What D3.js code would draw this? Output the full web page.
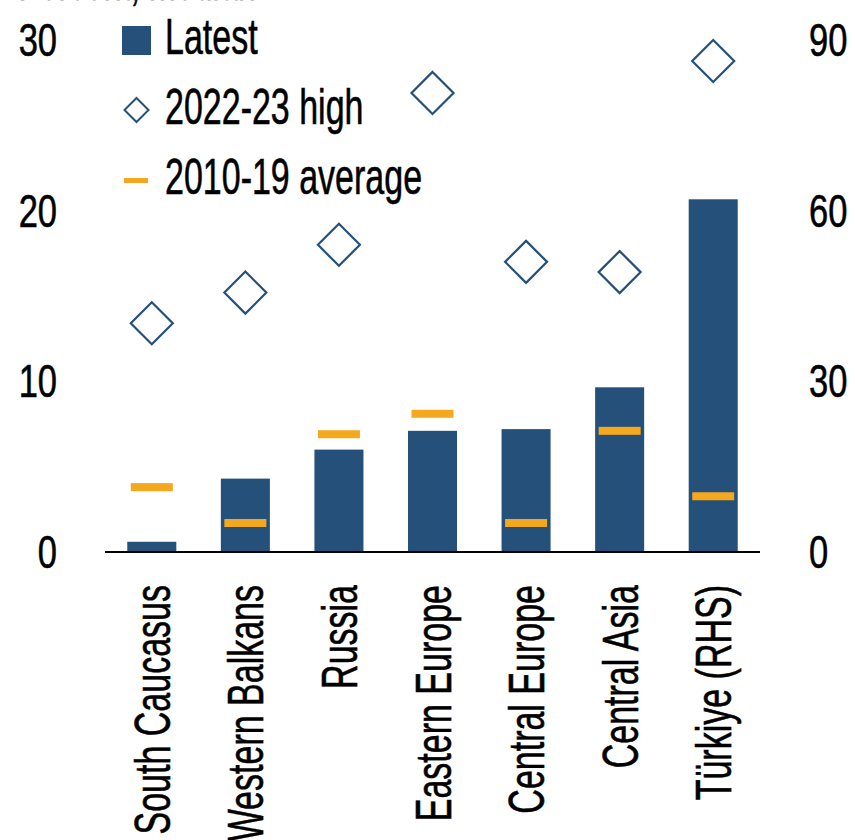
<!DOCTYPE html>
<html>
<head>
<meta charset="utf-8">
<script src="https://d3js.org/d3.v7.min.js"></script>
<style>
body { margin: 0; background: #fff; }
svg { display: block; }
text { font-family: 'Liberation Sans', Arial, sans-serif; fill: #000; stroke: #000; stroke-width: 0.6px; }
</style>
</head>
<body>
<svg id="chart" width="855" height="840"></svg>
<script>
// data
var regions = ["South Caucasus", "Western Balkans", "Russia", "Eastern Europe", "Central Europe", "Central Asia", "Türkiye (RHS)"];
var latest = [0.6, 4.3, 6.0, 7.1, 7.2, 9.65, 62.0];
var high2223 = [13.4, 15.2, 18.0, 26.9, 17.0, 16.4, 86.3];
var avg1019 = [3.8, 1.7, 6.9, 8.1, 1.7, 7.1, 9.8];
var rhsFlag = [false, false, false, false, false, false, true];
var leftTicks = [0, 10, 20, 30];
var rightTicks = [0, 30, 60, 90];
var legendLabels = ["Latest", "2022-23 high", "2010-19 average"];

var navy = "#24507a";
var orange = "#f5a81e";
var sx = 0.68; // squeeze text, the source font is a condensed one
var sxNum = 0.75;

var svg = d3.select("#chart");

var x = d3.scaleBand().domain(regions).range([105, 760]).paddingInner(0.476).paddingOuter(0.238);
var yL = d3.scaleLinear().domain([0, 30]).range([552, 40]);
var yR = d3.scaleLinear().domain([0, 90]).range([552, 40]);
function yv(v, i) { return rhsFlag[i] ? yR(v) : yL(v); }

// title (cut at the top in the source)
svg.append("g").attr("transform", "translate(20,0) scale(" + sx + ",1)")
  .append("text").attr("font-size", 48).attr("font-style", "italic").text("Percent, median");

// bars
svg.selectAll("rect.bar").data(regions).enter().append("rect")
  .attr("class", "bar")
  .attr("x", function(d){ return x(d); })
  .attr("width", x.bandwidth())
  .attr("y", function(d, i){ return yv(latest[i], i); })
  .attr("height", function(d, i){ return 552 - yv(latest[i], i); })
  .attr("fill", navy);

// 2010-19 average markers
svg.selectAll("rect.avg").data(regions).enter().append("rect")
  .attr("class", "avg")
  .attr("x", function(d){ return x(d) + x.bandwidth()/2 - 21; })
  .attr("width", 42)
  .attr("y", function(d, i){ return yv(avg1019[i], i) - 4; })
  .attr("height", 8)
  .attr("fill", orange);

// 2022-23 high diamonds
var dsz = 21;
svg.selectAll("path.high").data(regions).enter().append("path")
  .attr("class", "high")
  .attr("transform", function(d, i){ return "translate(" + (x(d) + x.bandwidth()/2) + "," + yv(high2223[i], i) + ")"; })
  .attr("d", "M0," + (-dsz) + "L" + dsz + ",0L0," + dsz + "L" + (-dsz) + ",0Z")
  .attr("fill", "none").attr("stroke", navy).attr("stroke-width", 2.2);

// baseline
svg.append("line").attr("x1", 105).attr("x2", 760).attr("y1", 552).attr("y2", 552)
  .attr("stroke", "#000").attr("stroke-width", 2);

// left axis labels
svg.selectAll("g.lt").data(leftTicks).enter().append("g")
  .attr("transform", function(d){ return "translate(57," + (yL(d) + 16) + ") scale(" + sxNum + ",1)"; })
  .append("text").attr("text-anchor", "end").attr("font-size", 46).text(function(d){ return d; });

// right axis labels
svg.selectAll("g.rt").data(rightTicks).enter().append("g")
  .attr("transform", function(d){ return "translate(809," + (yR(d) + 16) + ") scale(" + sxNum + ",1)"; })
  .append("text").attr("text-anchor", "start").attr("font-size", 46).text(function(d){ return d; });

// category labels, rotated
svg.selectAll("g.cat").data(regions).enter().append("g")
  .attr("transform", function(d){ return "translate(" + (x(d) + x.bandwidth()/2 + 18) + ",585) rotate(-90) scale(" + sx + ",1)"; })
  .append("text").attr("text-anchor", "end").attr("font-size", 50).text(function(d){ return d; });

// legend
var leg = svg.append("g");
leg.append("rect").attr("x", 122).attr("y", 26).attr("width", 29).attr("height", 29).attr("fill", navy);
leg.append("path").attr("transform", "translate(136.5,110)")
  .attr("d", "M0,-12L12,0L0,12L-12,0Z").attr("fill", "none").attr("stroke", navy).attr("stroke-width", 2);
leg.append("rect").attr("x", 124).attr("y", 178).attr("width", 24).attr("height", 5).attr("fill", orange);
leg.selectAll("g.lg").data(legendLabels).enter().append("g")
  .attr("transform", function(d, i){ return "translate(165," + (54 + i*70) + ") scale(" + sx + ",1)"; })
  .append("text").attr("font-size", 50).text(function(d){ return d; });
</script>
</body>
</html>
